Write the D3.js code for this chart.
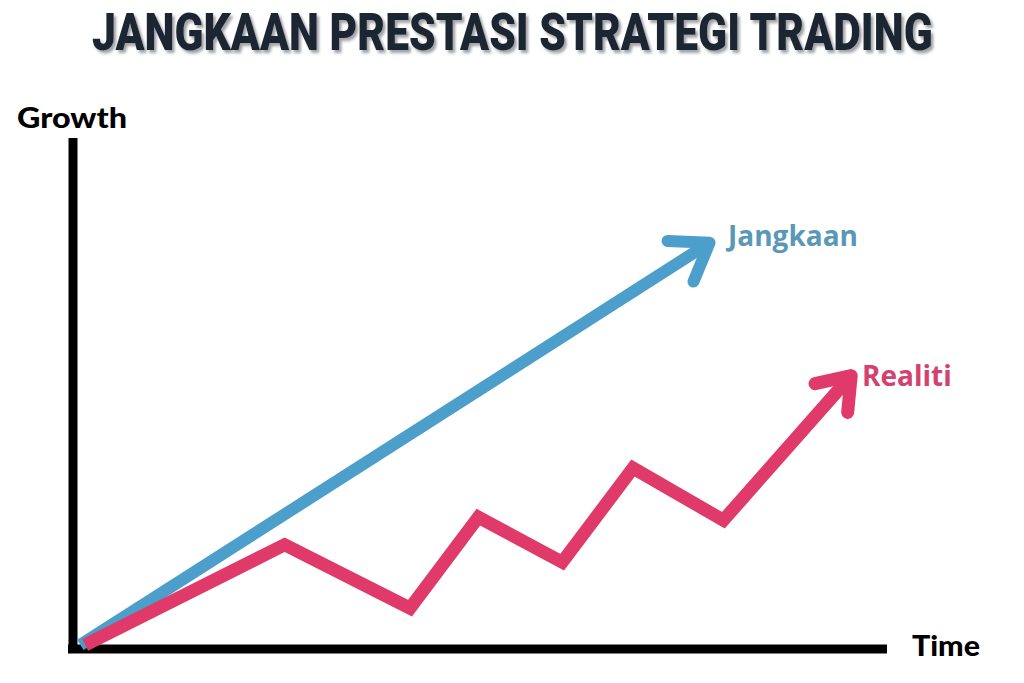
<!DOCTYPE html>
<html><head><meta charset="utf-8">
<script src="https://cdn.jsdelivr.net/npm/d3@7/dist/d3.min.js"></script>
<style>html,body{margin:0;padding:0;background:#fff;}svg{display:block;}</style>
</head><body>
<svg id="chart" width="1024" height="683"></svg>
<script>
// ---- data (time / growth in arbitrary units 0..100) ----
const titleText = "JANGKAAN PRESTASI STRATEGI TRADING";
const yAxisLabel = "Growth";
const xAxisLabel = "Time";
const seriesNames = ["Jangkaan", "Realiti"];
const jangkaanTime = [0.9, 78.2];
const jangkaanGrowth = [0.8, 79.5];
const realitiTime = [1.5, 26.0, 41.4, 49.8, 60.1, 68.8, 79.9, 95.6];
const realitiGrowth = [0.8, 20.4, 8.0, 25.8, 17.0, 35.4, 25.2, 53.5];

const svg = d3.select("#chart");
const x = d3.scaleLinear().domain([0, 100]).range([73, 887]);
const y = d3.scaleLinear().domain([0, 100]).range([649, 138]);

// title with drop shadow, condensed via horizontal scale
const defs = svg.append("defs");
const f = defs.append("filter").attr("id","sh").attr("filterUnits","userSpaceOnUse")
  .attr("x",-50).attr("y",-70).attr("width",2000).attr("height",110);
f.append("feDropShadow").attr("dx",3).attr("dy",3).attr("stdDeviation",1.5)
  .attr("flood-color","#8f9398").attr("flood-opacity",0.85);
const tg = svg.append("g");
const tt = tg.append("text").attr("x", 0).attr("y", 0)
  .attr("font-family","Roboto, sans-serif").attr("font-weight",900)
  .attr("font-size", 52).attr("fill", "#1b2733").attr("filter","url(#sh)").text(titleText);
const tw = tt.node().getComputedTextLength();
tg.attr("transform", `translate(92,50) scale(${841/tw},1)`);

// axes (library axes, no ticks, thick domain)
const xAxis = d3.axisBottom(x).ticks(0).tickSize(0).tickSizeOuter(0);
const yAxis = d3.axisLeft(y).ticks(0).tickSize(0).tickSizeOuter(0);
const gx = svg.append("g").attr("transform", `translate(0,${y(0)})`).call(xAxis);
const gy = svg.append("g").attr("transform", `translate(${x(0)},0)`).call(yAxis);
gx.select(".domain").attr("stroke","#000").attr("stroke-width",9).attr("d", `M${x(0)-5},0H${x(100)}`);
gy.select(".domain").attr("stroke","#000").attr("stroke-width",9).attr("d", `M0,${y(100)}V${y(0)+4}`);
gx.selectAll("text").remove(); gy.selectAll("text").remove();

svg.append("text").attr("x",17).attr("y",128).attr("font-family","Lato, sans-serif").attr("font-weight",900)
  .attr("font-size",29).attr("textLength",110).attr("lengthAdjust","spacingAndGlyphs")
  .attr("fill","#000").text(yAxisLabel);
svg.append("text").attr("x",912).attr("y",656).attr("font-family","Lato, sans-serif").attr("font-weight",900)
  .attr("font-size",28).attr("textLength",68).attr("lengthAdjust","spacingAndGlyphs")
  .attr("fill","#000").text(xAxisLabel);

const line = d3.line().x(d => x(d[0])).y(d => y(d[1]));

function arrowSeries(ts, gs, color, width, armLen, armAng) {
  const pts = ts.map((t,i) => [t, gs[i]]);
  svg.append("path").datum(pts).attr("d", line).attr("fill","none")
    .attr("stroke", color).attr("stroke-width", width).attr("stroke-linejoin","miter");
  const n = pts.length;
  const tx = x(pts[n-1][0]), ty = y(pts[n-1][1]);
  const px = x(pts[n-2][0]), py = y(pts[n-2][1]);
  const a = Math.atan2(py - ty, px - tx);
  const r = armAng * Math.PI/180;
  const a1 = [tx + armLen*Math.cos(a - r), ty + armLen*Math.sin(a - r)];
  const a2 = [tx + armLen*Math.cos(a + r), ty + armLen*Math.sin(a + r)];
  svg.append("path").attr("d", `M${a1[0]},${a1[1]}L${tx},${ty}L${a2[0]},${a2[1]}`)
    .attr("fill","none").attr("stroke", color).attr("stroke-width", width)
    .attr("stroke-linejoin","round").attr("stroke-linecap","round");
}

arrowSeries(jangkaanTime, jangkaanGrowth, "#4b9fca", 12, 42, 35);
arrowSeries(realitiTime, realitiGrowth, "#df3a6a", 13, 37, 36);

svg.append("text").attr("x",728).attr("y",246).attr("font-family","'Open Sans', sans-serif").attr("font-weight",700)
  .attr("font-size",28).attr("fill","#5a98b8").text(seriesNames[0]);
svg.append("text").attr("x",862).attr("y",386).attr("font-family","'Open Sans', sans-serif").attr("font-weight",700)
  .attr("font-size",28).attr("fill","#d3426f").text(seriesNames[1]);
</script>
</body></html>
